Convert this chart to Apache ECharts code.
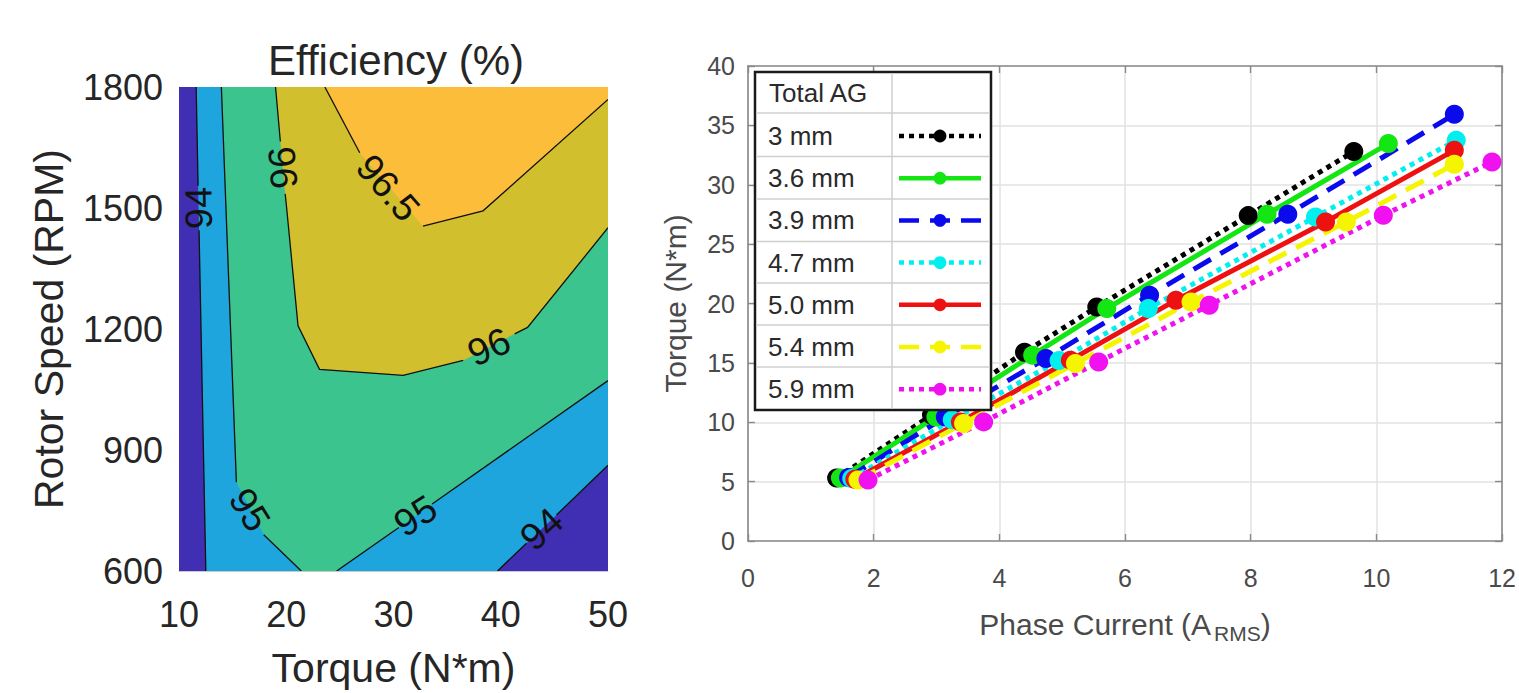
<!DOCTYPE html>
<html><head><meta charset="utf-8">
<script src="https://cdn.jsdelivr.net/npm/echarts@6/dist/echarts.min.js"></script>
<style>html,body{margin:0;padding:0;background:#fff}#c{width:1519px;height:693px}</style>
</head><body><div id="c"></div><script>
const FONT = '"Liberation Sans", Arial, Helvetica, sans-serif';

// ---------- Left panel: efficiency contour map ----------
const torqueTicks = [10, 20, 30, 40, 50];
const speedTicks = [600, 900, 1200, 1500, 1800];
// contour lines, [torque, rpm]; null = break where the inline label sits
const c94Left  = [[11.6,1800],[11.78,1555],null,[11.87,1445],[12.5,600]];
const c94Right = [[39.7,600],[42.4,669],null,[45.2,739],[50,862]];
const c95Left  = [[13.95,1800],[15.35,820],null,[17.9,690],[21.4,600]];
const c95Right = [[24.7,600],[30.5,708],null,[33.6,766],[50,1072]];
const c96      = [[19.0,1800],[19.45,1665],null,[19.9,1535],[20.0,1510],[21.1,1208],[23.1,1100],[30.9,1085],[36.5,1122],null,[41.3,1188],[42.5,1204],[50,1451]];
const c965     = [[23.6,1800],[26.85,1637],null,[32.75,1455],[38.35,1493],[50,1769]];
const contourLabelText = ['94', '96', '96.5', '96', '95', '95', '94'];
const contourLabelAt   = [[11.83,1500],[19.68,1600],[29.5,1550],[38.9,1156],[16.6,752],[32.05,737],[43.8,704]];
// styles
const contourLabelRot = [91, -85, -49, 24, -58, 33, 42];
const bandColors = ['#402fb3', '#1fa5de', '#3cc48e', '#d1bf2d', '#fbbd3a'];

// ---------- Right panel: torque vs phase current ----------
const currentTicks = [0, 2, 4, 6, 8, 10, 12];
const torqueAxisTicks = [0, 5, 10, 15, 20, 25, 30, 35, 40];
const seriesNames = ['3 mm', '3.6 mm', '3.9 mm', '4.7 mm', '5.0 mm', '5.4 mm', '5.9 mm'];
const cur_3_0 = [1.41, 2.92, 4.40, 5.55, 7.96, 9.64];
const trq_3_0 = [5.3, 10.6, 15.9, 19.7, 27.4, 32.8];
const cur_3_6 = [1.47, 2.99, 4.53, 5.71, 8.26, 10.19];
const trq_3_6 = [5.3, 10.45, 15.65, 19.58, 27.52, 33.47];
const cur_3_9 = [1.60, 3.14, 4.74, 6.39, 8.59, 11.24];
const trq_3_9 = [5.35, 10.45, 15.37, 20.7, 27.52, 35.93];
const cur_4_7 = [1.65, 3.25, 4.95, 6.37, 9.03, 11.27];
const trq_4_7 = [5.27, 10.2, 15.2, 19.58, 27.29, 33.75];
const cur_5_0 = [1.70, 3.38, 5.13, 6.81, 9.19, 11.24];
const trq_5_0 = [5.2, 10.03, 15.23, 20.28, 26.87, 32.9];
const cur_5_4 = [1.75, 3.43, 5.21, 7.05, 9.52, 11.24];
const trq_5_4 = [5.13, 9.9, 14.95, 20.13, 26.87, 31.72];
const cur_5_9 = [1.91, 3.75, 5.58, 7.34, 10.11, 11.84];
const trq_5_9 = [5.13, 10.03, 15.08, 19.86, 27.43, 31.92];
const currents = [cur_3_0, cur_3_6, cur_3_9, cur_4_7, cur_5_0, cur_5_4, cur_5_9];
const torques  = [trq_3_0, trq_3_6, trq_3_9, trq_4_7, trq_5_0, trq_5_4, trq_5_9];
// styles
const lineColors = ['#000000', '#14e614', '#0a0aec', '#00f0f0', '#ee1111', '#f5f500', '#f010f0'];
const lineDash = [[5,5], 'solid', [20,11], [5,5], 'solid', [20,11], [5,5]];

// ---------- build ----------
const TMIN = torqueTicks[0], TMAX = torqueTicks[torqueTicks.length-1];
const RMIN = speedTicks[0], RMAX = speedTicks[speedTicks.length-1];
const nn = a => a.filter(p => p);
const regions = [
  [[TMIN,RMIN],[TMAX,RMIN],[TMAX,RMAX],[TMIN,RMAX]],
  nn([...c94Left, ...c94Right, [TMAX,RMAX]]),
  nn([...c95Left, ...c95Right, [TMAX,RMAX]]),
  nn([...c96, [TMAX,RMAX]]),
  nn([...c965, [TMAX,RMAX]])
];
const contourLines = [c94Left, c94Right, c95Left, c95Right, c96, c965];

const series = [];
regions.forEach((poly, i) => {
  series.push({
    type: 'custom', xAxisIndex: 0, yAxisIndex: 0, clip: true, silent: true, z: 1,
    data: poly,
    renderItem: (params, api) => {
      if (params.dataIndex !== 0) return null;
      return { type: 'polygon', shape: { points: poly.map(p => api.coord(p)) },
               style: { fill: bandColors[i], stroke: null } };
    }
  });
});
contourLines.forEach(line => {
  series.push({
    type: 'custom', xAxisIndex: 0, yAxisIndex: 0, clip: true, silent: true, z: 1.5,
    data: nn(line),
    renderItem: (params, api) => {
      if (params.dataIndex !== 0) return null;
      const segs = []; let cur = [];
      line.forEach(p => { if (p) cur.push(api.coord(p)); else { segs.push(cur); cur = []; } });
      segs.push(cur);
      return { type: 'group', children: segs.map(s => ({ type: 'polyline', shape: { points: s },
               style: { stroke: '#111', lineWidth: 1.3, fill: null } })) };
    }
  });
});
series.push({
  type: 'custom', xAxisIndex: 0, yAxisIndex: 0, clip: false, silent: true, z: 1.6,
  data: contourLabelAt,
  renderItem: (params, api) => {
    const i = params.dataIndex;
    const pt = api.coord([api.value(0), api.value(1)]);
    return { type: 'text', x: pt[0], y: pt[1], rotation: contourLabelRot[i] * Math.PI / 180,
      style: { text: contourLabelText[i], fontFamily: FONT, fontSize: 38, fill: '#111',
               align: 'center', verticalAlign: 'middle' } };
  }
});
seriesNames.forEach((name, i) => {
  series.push({
    name, type: 'line', xAxisIndex: 1, yAxisIndex: 1, z: 2,
    data: currents[i].map((c, k) => [c, torques[i][k]]),
    symbol: 'circle', symbolSize: 19, showSymbol: true,
    lineStyle: { color: lineColors[i], width: 5, type: lineDash[i] },
    itemStyle: { color: lineColors[i] },
    emphasis: { disabled: true }
  });
});

const leftTxt = '#262626', rightTxt = '#4a4a4a', boxCol = '#8a8a8a';
const plain = v => String(v);
const option = {
  animation: false,
  backgroundColor: '#ffffff',
  textStyle: { fontFamily: FONT },
  grid: [
    { left: 179, top: 87, width: 429, height: 486 },
    { left: 748, top: 66, width: 764, height: 475 }
  ],
  xAxis: [
    { gridIndex: 0, type: 'value', min: TMIN, max: TMAX, interval: 10,
      name: 'Torque (N*m)', nameLocation: 'middle', nameGap: 76,
      nameTextStyle: { fontSize: 41, color: leftTxt, fontFamily: FONT },
      axisLabel: { fontSize: 36, color: leftTxt, margin: 25, fontFamily: FONT, formatter: plain },
      axisLine: { show: true, onZero: false, lineStyle: { color: '#c8c8c8', width: 1 } },
      axisTick: { show: false }, splitLine: { show: false } },
    { gridIndex: 1, type: 'value', min: 0, max: 12, interval: 2,
      name: 'Phase Current (A{sub|RMS})', nameLocation: 'middle', nameGap: 64,
      nameTextStyle: { fontSize: 30, color: rightTxt, fontFamily: FONT,
        rich: { sub: { fontSize: 21, color: rightTxt, fontFamily: FONT, padding: [18, 0, 0, 3] } } },
      axisLabel: { fontSize: 25, color: rightTxt, margin: 24, fontFamily: FONT, formatter: plain },
      axisLine: { show: true, onZero: false, lineStyle: { color: boxCol, width: 1.6 } },
      axisTick: { show: true, inside: true, length: 7, lineStyle: { color: boxCol, width: 1.4 } },
      splitLine: { show: true, lineStyle: { color: '#e2e2e2', width: 1.5 } } },
    { gridIndex: 1, type: 'value', position: 'top', min: 0, max: 12, interval: 2,
      axisLabel: { show: false },
      axisLine: { show: true, onZero: false, lineStyle: { color: boxCol, width: 1.6 } },
      axisTick: { show: true, inside: true, length: 7, lineStyle: { color: boxCol, width: 1.4 } },
      splitLine: { show: false } }
  ],
  yAxis: [
    { gridIndex: 0, type: 'value', min: RMIN, max: RMAX, interval: 300,
      name: 'Rotor Speed (RPM)', nameLocation: 'middle', nameGap: 110,
      nameTextStyle: { fontSize: 41, color: leftTxt, fontFamily: FONT },
      axisLabel: { fontSize: 36, color: leftTxt, margin: 16, fontFamily: FONT, formatter: plain },
      axisLine: { show: true, onZero: false, lineStyle: { color: '#c8c8c8', width: 1 } },
      axisTick: { show: false }, splitLine: { show: false } },
    { gridIndex: 1, type: 'value', min: 0, max: 40, interval: 5,
      name: 'Torque (N*m)', nameLocation: 'middle', nameGap: 58,
      nameTextStyle: { fontSize: 30, color: rightTxt, fontFamily: FONT },
      axisLabel: { fontSize: 25, color: rightTxt, margin: 13, fontFamily: FONT, formatter: plain },
      axisLine: { show: true, onZero: false, lineStyle: { color: boxCol, width: 1.6 } },
      axisTick: { show: true, inside: true, length: 7, lineStyle: { color: boxCol, width: 1.4 } },
      splitLine: { show: true, lineStyle: { color: '#e2e2e2', width: 1.5 } } },
    { gridIndex: 1, type: 'value', position: 'right', min: 0, max: 40, interval: 5,
      axisLabel: { show: false },
      axisLine: { show: true, onZero: false, lineStyle: { color: boxCol, width: 1.6 } },
      axisTick: { show: true, inside: true, length: 7, lineStyle: { color: boxCol, width: 1.4 } },
      splitLine: { show: false } }
  ],
  legend: {
    orient: 'vertical', left: 768, top: 123, padding: 0, itemGap: 16.2,
    itemWidth: 82, itemHeight: 16, align: 'right', selectedMode: false, z: 6,
    data: seriesNames,
    lineStyle: { width: 4.5 },
    formatter: n => '{t|' + n + '}',
    textStyle: { fontSize: 26, color: '#2a2a2a', fontFamily: FONT, lineHeight: 24,
      rich: { t: { width: 126, height: 24, align: 'left', fontSize: 26, lineHeight: 24, color: '#2a2a2a', fontFamily: FONT } } }
  },
  graphic: [
    { type: 'text', x: 396, y: 60, z: 10,
      style: { text: 'Efficiency (%)', fontFamily: FONT, fontSize: 42, fill: leftTxt,
               textAlign: 'center', textVerticalAlign: 'middle' } },
    { type: 'rect', z: 3, shape: { x: 755, y: 72, width: 236, height: 338 },
      style: { fill: '#ffffff', stroke: '#1a1a1a', lineWidth: 2.5 } },
    ...[113, 156.5, 199, 241.5, 283, 325, 367].map(y => ({ type: 'line', z: 3,
      shape: { x1: 756, y1: y, x2: 990, y2: y }, style: { stroke: '#cfcfcf', lineWidth: 1.5 } })),
    { type: 'line', z: 3, shape: { x1: 892, y1: 73, x2: 892, y2: 409 }, style: { stroke: '#cfcfcf', lineWidth: 1.5 } },
    { type: 'text', x: 769, y: 93, z: 7,
      style: { text: 'Total AG', fontFamily: FONT, fontSize: 26, fill: '#2a2a2a',
               textAlign: 'left', textVerticalAlign: 'middle' } }
  ],
  series
};
const chart = echarts.init(document.getElementById('c'), null, { renderer: 'svg' });
chart.setOption(option);
</script></body></html>
